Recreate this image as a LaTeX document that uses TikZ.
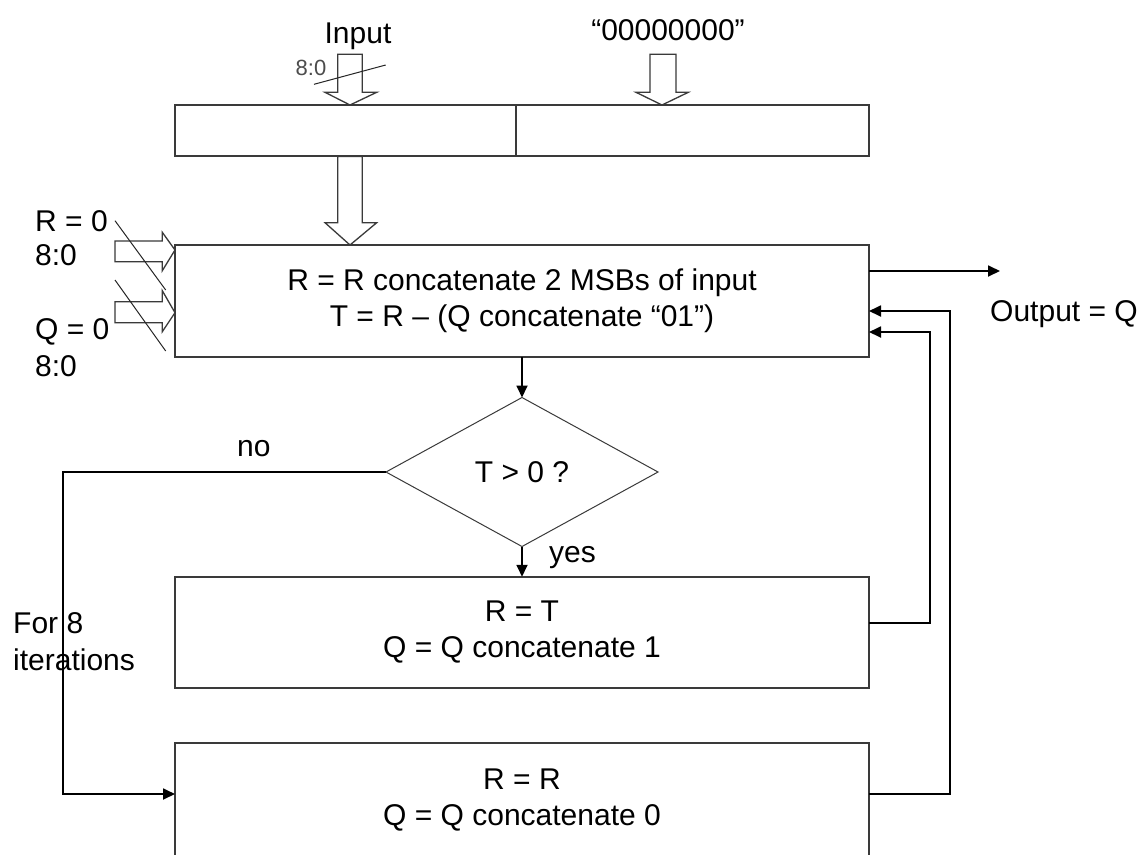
\documentclass[tikz,border=0pt]{standalone}
\usepackage{fontspec}
\setmainfont{Liberation Sans}
\usetikzlibrary{arrows.meta,shapes.geometric}
\definecolor{edge}{HTML}{3A3A3A}
\begin{document}
\begin{tikzpicture}[x=1pt,y=-1pt,
  lbl/.style={font=\fontsize{30}{36}\selectfont, inner sep=0pt},
  small/.style={font=\fontsize{22}{26}\selectfont, inner sep=0pt, text=black!70},
  box/.style={draw=edge, line width=1.8pt, rectangle, inner sep=0pt, outer sep=0pt,
     align=center, font=\fontsize{30}{36}\selectfont, fill=white},
  decision/.style={draw=edge, line width=1pt, diamond, inner sep=0pt, outer sep=0pt,
     minimum width=272pt, minimum height=149pt, font=\fontsize{30}{36}\selectfont},
  conn/.style={draw=black, line width=1.8pt, -{Triangle[length=12pt,width=11pt]}},
  blockarrow/.style={draw=edge, line width=1.3pt, fill=white, line join=miter},
  slash/.style={draw=black!85, line width=1pt}]
\clip (0,0) rectangle (1145,854);
\fill[white] (0,0) rectangle (1145,854);

% top register
\node[box, minimum width=341pt, minimum height=51pt] (regL) at (345.5,130.5) {};
\node[box, minimum width=353pt, minimum height=51pt] (regR) at (692.5,130.5) {};

% main box
\node[box, minimum width=694pt, minimum height=112pt] (main) at (522,301)
  {R = R concatenate 2 MSBs of input\\T = R – (Q concatenate “01”)};

% decision
\node[decision] (dia) at (522,472) {T > 0 ?};

% R = T box
\node[box, minimum width=694pt, minimum height=111.5pt] (rt) at (522,632.5)
  {R = T\\Q = Q concatenate 1};

% R = R box
\node[box, minimum width=694pt, minimum height=114pt] (rr) at (522,800)
  {R = R\\Q = Q concatenate 0};

% block arrows
\draw[blockarrow] (337.7,54.3) -- (362.3,54.3) -- (362.3,92.3) -- (376.7,92.3) -- (350,105)
  -- (325,92.3) -- (337.7,92.3) -- cycle;
\draw[blockarrow] (650,54.3) -- (676,54.3) -- (676,92.3) -- (688.3,92.3) -- (662,105)
  -- (636,92.3) -- (650,92.3) -- cycle;
\draw[blockarrow] (337.7,156.5) -- (362.3,156.5) -- (362.3,222.7) -- (376.7,222.7) -- (350,245)
  -- (325,222.7) -- (337.7,222.7) -- cycle;
\draw[blockarrow] (115,241) -- (162.3,241) -- (162.3,232.3) -- (175,250) -- (162.3,270.7)
  -- (162.3,261.7) -- (115,261.7) -- cycle;
\draw[blockarrow] (115,301.7) -- (162.3,301.7) -- (162.3,290.7) -- (175,312.7) -- (162.3,331.7)
  -- (162.3,322.7) -- (115,322.7) -- cycle;

% bus slashes
\draw[slash] (314,84.3) -- (385.7,65);
\draw[slash] (115,220.7) -- (165.7,290);
\draw[slash] (115,280) -- (165.7,351);

% labels
\node[lbl, anchor=base] (inlbl) at (358,43) {Input};
\node[lbl, anchor=base] (zerolbl) at (668,40) {“00000000”};
\node[small] (inw) at (311,68) {8:0};
\node[lbl, anchor=base west] (r0) at (35,231.7) {R = 0};
\node[lbl, anchor=base west] (r0w) at (35,265) {8:0};
\node[lbl, anchor=base west] (q0) at (35,339) {Q = 0};
\node[lbl, anchor=base west] (q0w) at (35,376.7) {8:0};
\node[lbl, anchor=base west] (outlbl) at (990,321.7) {Output = Q};
\node[lbl, anchor=base west] (yes) at (549,562) {yes};
\node[lbl, anchor=base west] (no) at (237,456.7) {no};
\node[lbl, anchor=base west] (for8) at (13,633) {For 8};
\node[lbl, anchor=base west] (iter) at (13,670) {iterations};

% coordinates
\coordinate (loop) at (62.7,794);
\coordinate (rrin) at (175,794);
\coordinate (outend) at (1000,271);
\coordinate (fbA) at (930,332);
\coordinate (fbB) at (950,311);

% connectors
\draw[conn] (main.south) -- (dia.north);
\draw[conn] (dia.south) -- (rt.north);
\draw[conn] (dia.west) -| (loop) -- (rrin);
\draw[conn] (main.east |- outend) -- (outend);
\draw[conn] (rt.east |- 0,623.3) -| (fbA) -- (main.east |- fbA);
\draw[conn] (rr.east |- loop) -| (fbB) -- (main.east |- fbB);
\end{tikzpicture}
\end{document}
